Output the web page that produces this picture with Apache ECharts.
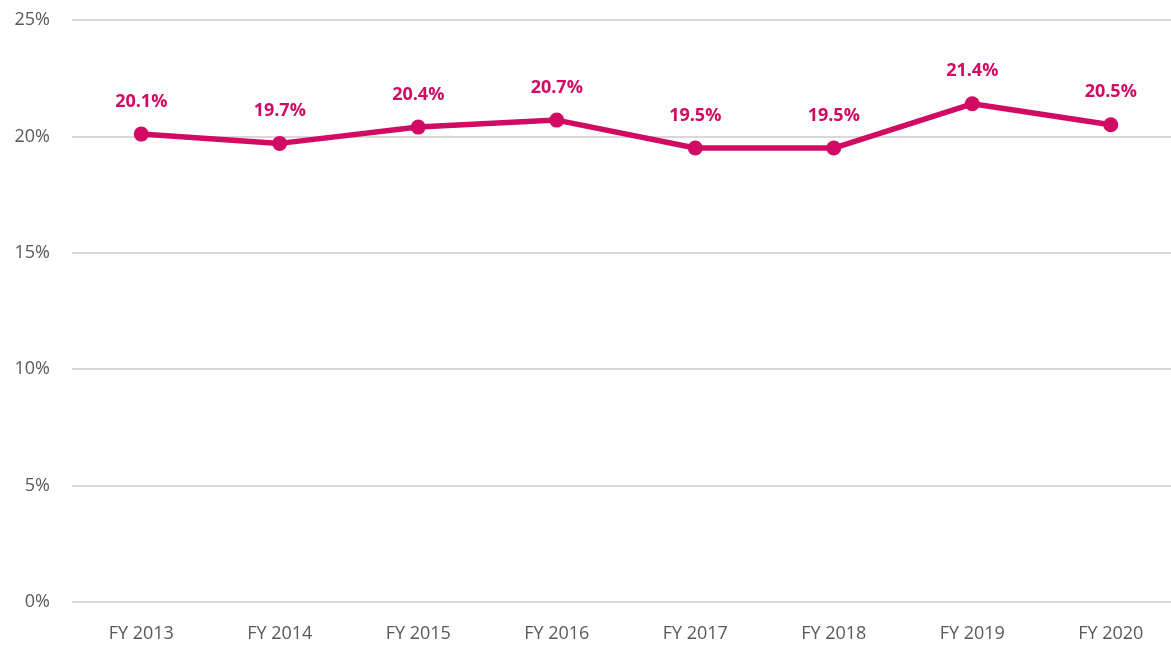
<!DOCTYPE html>
<html>
<head>
<meta charset="utf-8">
<script src="https://cdn.jsdelivr.net/npm/echarts@6/dist/echarts.min.js"></script>
<style>
  html, body { margin: 0; padding: 0; background: #fff; overflow: hidden; }
  /* plot runs slightly past the right edge of the window, as in the original */
  #main { width: 1180px; height: 648px; }
</style>
</head>
<body>
<div id="main"></div>
<script>
// data
const years = ['FY 2013', 'FY 2014', 'FY 2015', 'FY 2016', 'FY 2017', 'FY 2018', 'FY 2019', 'FY 2020'];
const margin = [20.1, 19.7, 20.4, 20.7, 19.5, 19.5, 21.4, 20.5];

const pink = '#d10a64';

let myChart = echarts.init(document.getElementById('main'));
myChart.setOption({
  animation: false,
  grid: { left: 72, top: 20, right: 0, bottom: 46, containLabel: false },
  xAxis: {
    type: 'category',
    data: years,
    axisLine: { show: false },
    axisTick: { show: false },
    axisLabel: { color: '#595959', fontSize: 18, fontFamily: 'Open Sans', margin: 23 }
  },
  yAxis: {
    type: 'value',
    min: 0,
    max: 25,
    interval: 5,
    axisLine: { show: false },
    axisTick: { show: false },
    splitLine: { lineStyle: { color: '#d9d9d9', width: 2 } },
    axisLabel: {
      color: '#595959', fontSize: 18, fontFamily: 'Open Sans', margin: 22,
      formatter: v => v + '%'
    }
  },
  series: [{
    type: 'line',
    data: margin,
    symbol: 'circle',
    symbolSize: 15,
    lineStyle: { color: pink, width: 5.5 },
    itemStyle: { color: pink },
    label: {
      show: true,
      position: 'top',
      distance: 16,
      color: pink,
      fontWeight: 'bold',
      fontSize: 18,
      fontFamily: 'Open Sans',
      formatter: p => p.value.toFixed(1) + '%'
    }
  }]
});
</script>
</body>
</html>
